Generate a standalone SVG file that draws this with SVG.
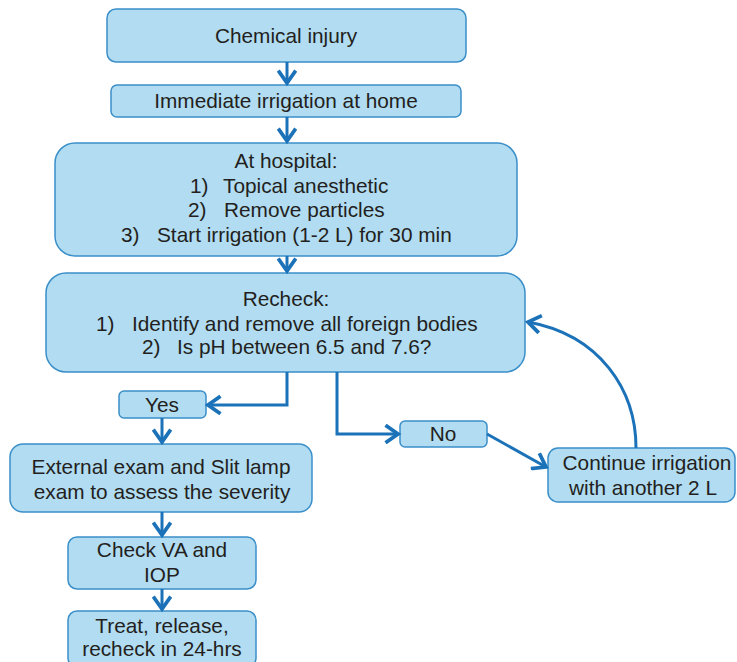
<svg xmlns="http://www.w3.org/2000/svg" width="737" height="662" viewBox="0 0 737 662">
<defs>
<style>
.box{fill:#b1dcf1;stroke:#3b8fc9;stroke-width:1.5}
.t{font-family:"Liberation Sans",Arial,sans-serif;font-size:20.8px;fill:#231f20;text-anchor:middle}
.s{font-family:"Liberation Sans",Arial,sans-serif;font-size:20.8px;fill:#231f20;text-anchor:start}
.c{fill:none;stroke:#1b72b8;stroke-width:3}
</style>
<marker id="ah" markerUnits="userSpaceOnUse" markerWidth="20" markerHeight="20" viewBox="-12 -8 14 16" refX="0" refY="0" orient="auto">
<path d="M-10,-7 L0,0 L-10,7" fill="none" stroke="#1b72b8" stroke-width="3"/>
</marker>
</defs>
<rect width="737" height="662" fill="#ffffff"/>
<g id="n1"><rect class="box" x="107" y="9" width="359" height="53" rx="9"/><text class="t" x="286" y="43">Chemical injury</text></g>
<g id="n2"><rect class="box" x="111" y="85" width="350" height="32" rx="6"/><text class="t" x="286" y="108">Immediate irrigation at home</text></g>
<g id="n3"><rect class="box" x="55" y="143" width="462" height="113" rx="20"/>
<text class="t" x="286" y="168">At hospital:</text>
<text class="s" x="190" y="193">1)</text><text class="s" x="223" y="193">Topical anesthetic</text>
<text class="s" x="188" y="217">2)</text><text class="s" x="224" y="217">Remove particles</text>
<text class="s" x="121" y="242">3)</text><text class="s" x="157" y="242">Start irrigation (1-2 L) for 30 min</text></g>
<g id="n4"><rect class="box" x="46" y="273" width="479" height="99" rx="20"/>
<text class="t" x="286" y="306">Recheck:</text>
<text class="s" x="96" y="331">1)</text><text class="s" x="132" y="331">Identify and remove all foreign bodies</text>
<text class="s" x="142" y="354">2)</text><text class="s" x="177" y="354">Is pH between 6.5 and 7.6?</text></g>
<g id="n5"><rect class="box" x="119" y="391" width="87" height="27" rx="5"/><text class="t" x="162" y="412">Yes</text></g>
<g id="n6"><rect class="box" x="400" y="421" width="87" height="26" rx="5"/><text class="t" x="443" y="441">No</text></g>
<g id="n7"><rect class="box" x="10" y="444" width="302" height="68" rx="13"/>
<text class="t" x="161" y="474">External exam and Slit lamp</text>
<text class="t" x="162" y="499">exam to assess the severity</text></g>
<g id="n8"><rect class="box" x="548" y="448" width="187" height="54" rx="10"/>
<text class="t" x="647" y="470">Continue irrigation</text>
<text class="t" x="643" y="495">with another 2 L</text></g>
<g id="n9"><rect class="box" x="68" y="537" width="188" height="52" rx="9"/>
<text class="t" x="162" y="557">Check VA and</text>
<text class="t" x="162" y="582">IOP</text></g>
<g id="n10"><rect class="box" x="68" y="611" width="188" height="56" rx="9"/>
<text class="t" x="162" y="633">Treat, release,</text>
<text class="t" x="162" y="656">recheck in 24-hrs</text></g>
<g id="connectors">
<path class="c" d="M287,62 L287,83" marker-end="url(#ah)"/>
<path class="c" d="M287,117 L287,141" marker-end="url(#ah)"/>
<path class="c" d="M287,256 L287,271" marker-end="url(#ah)"/>
<path class="c" d="M287,372 L287,405 L208,405" marker-end="url(#ah)"/>
<path class="c" d="M162,418 L162,442" marker-end="url(#ah)"/>
<path class="c" d="M337,372 L337,434 L398,434" marker-end="url(#ah)"/>
<path class="c" d="M487,434 L546,467" marker-end="url(#ah)"/>
<path class="c" d="M636,448 C636,390 600,335 528,322" marker-end="url(#ah)"/>
<path class="c" d="M162,512 L162,535" marker-end="url(#ah)"/>
<path class="c" d="M162,589 L162,609" marker-end="url(#ah)"/>
</g>
</svg>
